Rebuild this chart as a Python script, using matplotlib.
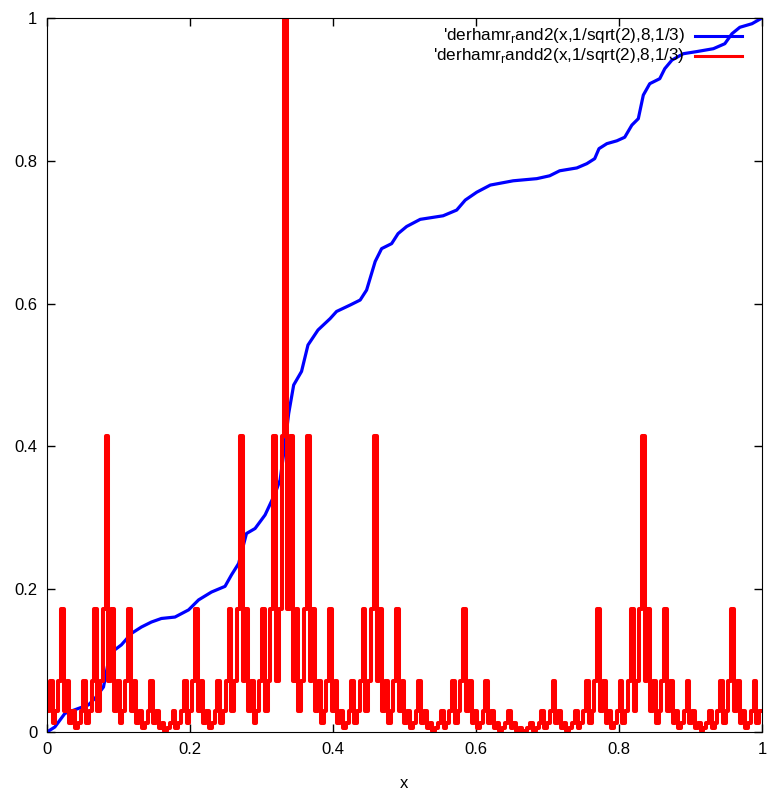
import numpy as np
import matplotlib
matplotlib.use("Agg")
import matplotlib.pyplot as plt

plt.rcParams['font.family'] = ['Liberation Sans', 'DejaVu Sans']
plt.rcParams['mathtext.fontset'] = 'custom'
plt.rcParams['mathtext.rm'] = 'Liberation Sans'

# red step heights: 256 equal bins on [0,1], each bin is one of these levels
red_levels = [1.0, 0.414, 0.172, 0.071, 0.029, 0.012, 0.005, 0.002, 0.001]
red_bins = [
    4, 3, 5, 4, 3, 2, 4, 3, 5, 4, 6, 5, 4, 3, 5, 4,
    3, 2, 4, 3, 2, 1, 3, 2, 4, 3, 5, 4, 3, 2, 4, 3,
    5, 4, 6, 5, 4, 3, 5, 4, 6, 5, 7, 6, 5, 4, 6, 5,
    4, 3, 5, 4, 3, 2, 4, 3, 5, 4, 6, 5, 4, 3, 5, 4,
    3, 2, 4, 3, 2, 1, 3, 2, 4, 3, 5, 4, 3, 2, 4, 3,
    2, 1, 3, 2, 1, 0, 2, 1, 3, 2, 4, 3, 2, 1, 3, 2,
    4, 3, 5, 4, 3, 2, 4, 3, 5, 4, 6, 5, 4, 3, 5, 4,
    3, 2, 4, 3, 2, 1, 3, 2, 4, 3, 5, 4, 3, 2, 4, 3,
    5, 4, 6, 5, 4, 3, 5, 4, 6, 5, 7, 6, 5, 4, 6, 5,
    4, 3, 5, 4, 3, 2, 4, 3, 5, 4, 6, 5, 4, 3, 5, 4,
    6, 5, 7, 6, 5, 4, 6, 5, 7, 6, 8, 7, 6, 5, 7, 6,
    5, 4, 6, 5, 4, 3, 5, 4, 6, 5, 7, 6, 5, 4, 6, 5,
    4, 3, 5, 4, 3, 2, 4, 3, 5, 4, 6, 5, 4, 3, 5, 4,
    3, 2, 4, 3, 2, 1, 3, 2, 4, 3, 5, 4, 3, 2, 4, 3,
    5, 4, 6, 5, 4, 3, 5, 4, 6, 5, 7, 6, 5, 4, 6, 5,
    4, 3, 5, 4, 3, 2, 4, 3, 5, 4, 6, 5, 4, 3, 5, 4,
]

# blue curve, points
blue_x = [0.0, 0.011, 0.025, 0.044, 0.058, 0.067, 0.079, 0.088, 0.104, 0.118,
          0.132, 0.146, 0.160, 0.179, 0.198, 0.212, 0.230, 0.249, 0.258, 0.268,
          0.279, 0.291, 0.305, 0.319, 0.326, 0.333, 0.338, 0.345, 0.356, 0.365,
          0.379, 0.396, 0.405, 0.424, 0.438, 0.447, 0.459, 0.468, 0.482, 0.491,
          0.503, 0.522, 0.554, 0.573, 0.585, 0.601, 0.620, 0.652, 0.685, 0.703,
          0.717, 0.741, 0.755, 0.766, 0.772, 0.783, 0.797, 0.808, 0.818, 0.827,
          0.834, 0.843, 0.857, 0.864, 0.874, 0.890, 0.909, 0.932, 0.948, 0.958,
          0.969, 0.986, 1.0]
blue_y = [0.0, 0.007, 0.026, 0.033, 0.038, 0.047, 0.063, 0.110, 0.122, 0.138,
          0.147, 0.154, 0.159, 0.161, 0.171, 0.185, 0.196, 0.204, 0.220, 0.236,
          0.278, 0.285, 0.304, 0.334, 0.353, 0.404, 0.446, 0.486, 0.505, 0.542,
          0.563, 0.579, 0.589, 0.598, 0.605, 0.619, 0.659, 0.677, 0.684, 0.698,
          0.708, 0.718, 0.723, 0.731, 0.745, 0.756, 0.766, 0.772, 0.775, 0.779,
          0.786, 0.790, 0.796, 0.803, 0.817, 0.824, 0.828, 0.833, 0.850, 0.859,
          0.892, 0.908, 0.915, 0.929, 0.941, 0.950, 0.953, 0.957, 0.964, 0.978,
          0.987, 0.992, 1.0]

label_blue = r"'derhamr$_{\rm r}$and2(x,1/sqrt(2),8,1/3)"
label_red = r"'derhamr$_{\rm r}$andd2(x,1/sqrt(2),8,1/3)"

fig = plt.figure(figsize=(7.67, 7.91), dpi=100)
ax = fig.add_axes([47 / 767, 1 - 732 / 791, 715 / 767, 714 / 791])

ax.plot(blue_x, blue_y, color='#0000ff', lw=2.3, solid_joinstyle='round',
        solid_capstyle='round')

heights = [red_levels[k] for k in red_bins]
edges = np.linspace(0, 1, len(heights) + 1)
ax.step(edges, heights + [heights[-1]], where='post', color='#ff0000', lw=2.9)

ax.set_xlim(0, 1)
ax.set_ylim(0, 1)
ax.set_xticks([0, 0.2, 0.4, 0.6, 0.8, 1])
ax.set_xticklabels(['0', '0.2', '0.4', '0.6', '0.8', '1'])
ax.set_yticks([0, 0.2, 0.4, 0.6, 0.8, 1])
ax.set_yticklabels(['0', '0.2', '0.4', '0.6', '0.8', '1'])
ax.tick_params(direction='in', top=True, right=True, length=6, width=1,
               labelsize=12, pad=7)
ax.set_xlabel('x', fontsize=12, labelpad=14)

# legend drawn by hand, gnuplot style
tr = ax.transAxes
ax.text(0.892, 0.975, label_blue, transform=tr, ha='right', va='center', fontsize=12.3)
ax.plot([0.906, 0.972], [0.975, 0.975], transform=tr, color='#0000ff', lw=2.2)
ax.text(0.892, 0.947, label_red, transform=tr, ha='right', va='center', fontsize=12.3)
ax.plot([0.906, 0.972], [0.947, 0.947], transform=tr, color='#ff0000', lw=2.2)

fig.savefig('out.png', dpi=100)
